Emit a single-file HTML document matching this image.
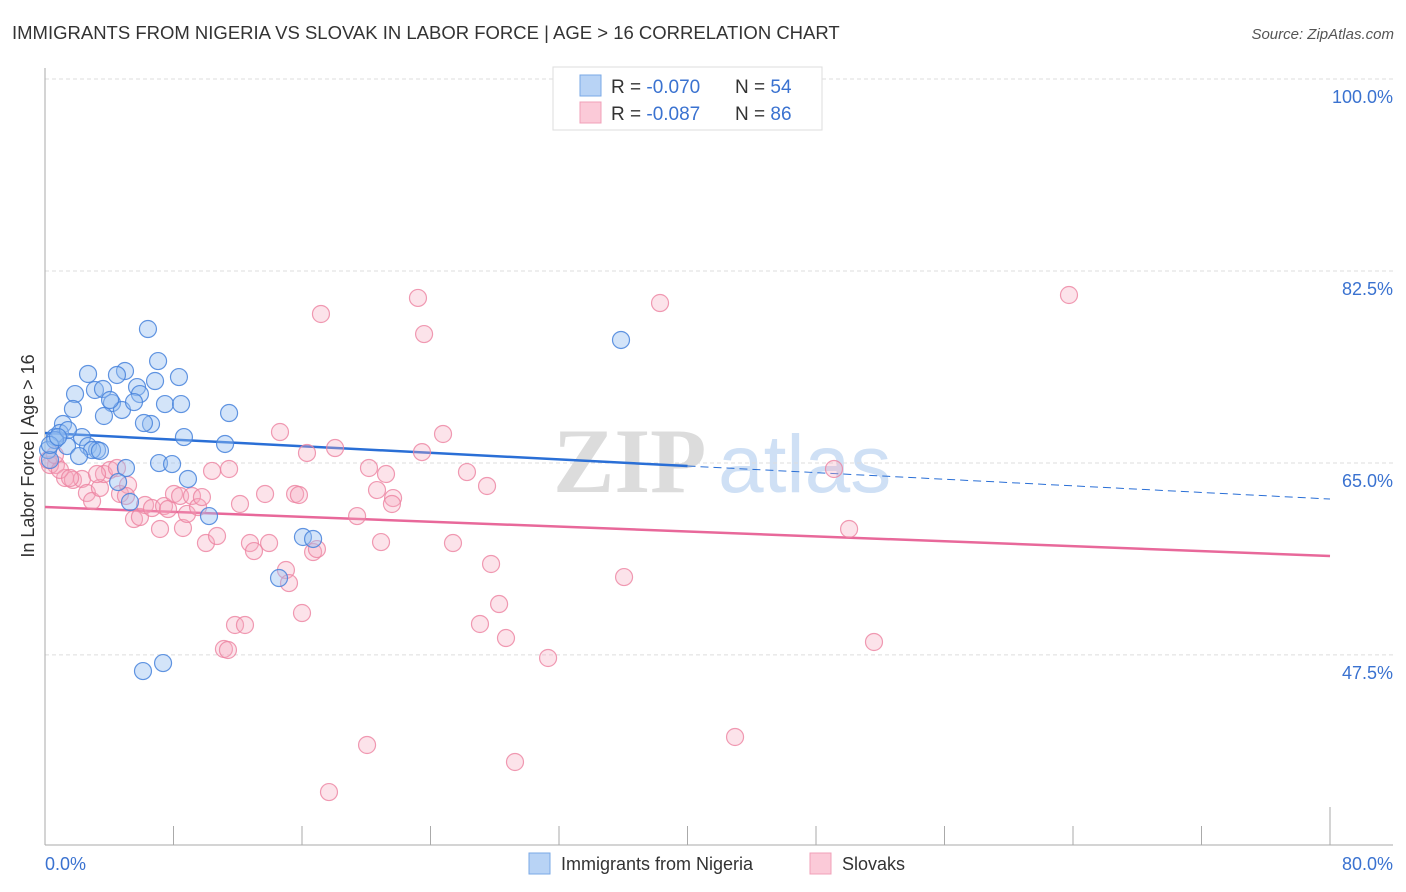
<!DOCTYPE html>
<html><head><meta charset="utf-8"><style>
body{margin:0;background:#fff;font-family:"Liberation Sans",sans-serif;}
svg{display:block}
</style></head><body>
<svg id="chart" width="1406" height="892" xmlns="http://www.w3.org/2000/svg">
<text x="12" y="39" font-size="18.5" fill="#333" font-family="Liberation Sans, sans-serif">IMMIGRANTS FROM NIGERIA VS SLOVAK IN LABOR FORCE | AGE &gt; 16 CORRELATION CHART</text>
<text x="1394" y="39" font-size="15" fill="#555" font-style="italic" text-anchor="end">Source: ZipAtlas.com</text>
<g>
<text x="553" y="492" fill="#dcdcdc" font-size="92" font-weight="bold" font-family="Liberation Serif, serif">ZIP</text>
<text x="718" y="492" fill="#cfe0f5" font-size="82" font-family="Liberation Sans, sans-serif">atlas</text>
</g>
<g id="grid"></g>
<g id="axes"></g>
<g id="lines"></g>
<g id="pts"></g>
<text transform="translate(34,456) rotate(-90)" font-size="18" fill="#333" text-anchor="middle">In Labor Force | Age &gt; 16</text>
<g>
<rect x="553" y="67" width="269" height="63" fill="#fff" stroke="#ddd"/>
<rect x="580" y="75" width="21" height="21" fill="#b8d3f5" stroke="#7aa8e6"/>
<rect x="580" y="102" width="21" height="21" fill="#fbcad8" stroke="#f0a0b8"/>
<text x="611" y="93" font-size="19" fill="#333">R = <tspan fill="#3a72d0">-0.070</tspan><tspan x="735">N = </tspan><tspan fill="#3a72d0">54</tspan></text>
<text x="611" y="120" font-size="19" fill="#333">R = <tspan fill="#3a72d0">-0.087</tspan><tspan x="735">N = </tspan><tspan fill="#3a72d0">86</tspan></text>
</g>
<g>
<rect x="529" y="853" width="21" height="21" fill="#b8d3f5" stroke="#7aa8e6"/>
<text x="561" y="870" font-size="18" fill="#333">Immigrants from Nigeria</text>
<rect x="810" y="853" width="21" height="21" fill="#fbcad8" stroke="#f0a0b8"/>
<text x="842" y="870" font-size="18" fill="#333">Slovaks</text>
</g>
</svg>
<script>
const yTicks=[100,82.5,65,47.5];
const yTickLabels=["100.0%","82.5%","65.0%","47.5%"];
const xTickVals=[0,8,16,24,32,40,48,56,64,72,80];
const xLabels=["0.0%","80.0%"];
const blueX=[6.41,7.04,2.68,4.98,4.48,6.85,8.34,5.73,1.87,3.11,3.61,5.91,4.17,4.79,7.47,8.47,5.54,1.74,3.67,4.05,6.60,6.16,11.46,1.12,2.30,0.62,0.93,11.21,8.65,2.68,3.24,2.93,1.37,2.12,3.42,0.19,0.31,7.10,7.91,5.04,4.55,5.29,8.90,10.21,16.06,16.69,14.57,6.10,7.35,35.86,0.62,1.43,0.31,0.81];
const blueY=[77.21,74.29,73.11,73.38,73.02,72.47,72.83,71.92,71.28,71.65,71.74,71.28,70.46,69.83,70.37,70.37,70.55,69.92,69.28,70.74,68.55,68.64,69.55,68.55,67.36,67.36,67.73,66.73,67.36,66.54,66.18,66.18,66.54,65.63,66.09,66.18,65.27,64.99,64.90,64.54,63.26,61.44,63.54,60.16,58.25,58.07,54.51,46.03,46.76,76.21,67.09,68.00,66.64,67.36];
const pinkX=[23.22,38.29,63.75,17.18,23.60,14.63,24.78,16.31,18.06,23.47,20.17,21.23,26.27,27.52,20.67,21.67,21.60,10.40,11.46,13.70,15.57,15.81,12.14,0.68,1.25,1.74,2.30,2.61,2.93,3.42,3.67,4.05,4.48,4.67,5.17,5.04,3.24,5.54,5.91,6.23,6.66,7.16,7.41,7.66,8.03,8.41,8.59,8.84,9.15,9.53,9.77,10.02,10.71,12.76,13.01,13.95,15.00,15.19,16.00,16.69,16.93,19.43,20.92,25.40,27.77,28.27,27.08,28.70,31.32,36.05,11.83,12.45,11.14,11.39,20.05,17.68,29.26,42.96,49.12,50.06,51.61,0.31,0.19,0.93,1.56,0.62];
const pinkY=[80.04,79.58,80.31,78.58,76.75,67.82,67.64,65.91,66.36,65.99,64.54,63.99,64.17,62.90,62.53,61.80,61.26,64.27,64.45,62.17,62.17,62.08,61.26,64.81,63.63,63.45,63.54,62.26,61.53,62.72,63.99,64.36,64.54,62.17,62.99,61.99,63.99,59.89,60.07,61.17,60.89,58.98,61.07,60.80,62.17,61.99,59.07,60.35,61.99,60.98,61.89,57.70,58.34,57.70,56.97,57.70,55.24,54.05,51.32,56.88,57.15,60.16,57.79,57.70,55.79,52.14,50.32,49.04,47.22,54.60,50.23,50.23,48.04,47.95,39.29,35.00,37.74,40.02,64.45,58.98,48.68,64.81,65.27,64.36,63.63,65.72];
const blueTrend=[67.73,61.71];
const pinkTrend=[60.98,56.52];
const NS="http://www.w3.org/2000/svg";
const X=v=>45+v/80*1285;
const Y=v=>79+(100-v)*10.97;
function mk(parent,tag,attrs){const e=document.createElementNS(NS,tag);for(const k in attrs)e.setAttribute(k,attrs[k]);document.getElementById(parent).appendChild(e);return e;}
yTicks.forEach((t,i)=>{
 const g=mk('grid','line',{x1:45,x2:1393,y1:Y(t),y2:Y(t),stroke:'#ddd','stroke-dasharray':'4,3'});
 
 
 const tx=mk('grid','text',{x:1393,y:Y(t)+24,'font-size':18,fill:'#3a72d0','text-anchor':'end'});
 tx.textContent=yTickLabels[i];
 
 
});
const ax=mk('axes','line',{x1:45,x2:45,y1:68,y2:845,stroke:'#aaa'});


const bx=mk('axes','line',{x1:45,x2:1393,y1:845,y2:845,stroke:'#aaa'});


xTickVals.forEach((t,i)=>{
 const l=mk('axes','line',{x1:X(t),x2:X(t),y1:(i==xTickVals.length-1?807:826),y2:845,stroke:'#aaa'});
 
 
});
const l0=mk('axes','text',{x:45,y:870,'font-size':18,fill:'#3a72d0'});l0.textContent=xLabels[0];


const l1=mk('axes','text',{x:1393,y:870,'font-size':18,fill:'#3a72d0','text-anchor':'end'});l1.textContent=xLabels[1];


function pts(xs,ys,fill,stroke,name){xs.forEach((x,i)=>{
 const c=mk('pts','circle',{cx:X(x),cy:Y(ys[i]),r:8.5,fill:fill,stroke:stroke,'stroke-width':1.2});
 
 
});}
pts(pinkX,pinkY,'rgba(246,170,192,0.33)','rgba(236,130,160,0.8)','slovak-point');
pts(blueX,blueY,'rgba(150,190,240,0.42)','rgba(70,130,220,0.85)','nigeria-point');
const bm=blueTrend[0]+(blueTrend[1]-blueTrend[0])*40/80;
const t1=mk('lines','line',{x1:X(0),y1:Y(blueTrend[0]),x2:X(40),y2:Y(bm),stroke:'#2a6fd6','stroke-width':2.5});


const t2=mk('lines','line',{x1:X(40),y1:Y(bm),x2:X(80),y2:Y(blueTrend[1]),stroke:'#2a6fd6','stroke-width':1,'stroke-dasharray':'8,5'});


const t3=mk('lines','line',{x1:X(0),y1:Y(pinkTrend[0]),x2:X(80),y2:Y(pinkTrend[1]),stroke:'#e8689a','stroke-width':2.5});


</script>
</body></html>
